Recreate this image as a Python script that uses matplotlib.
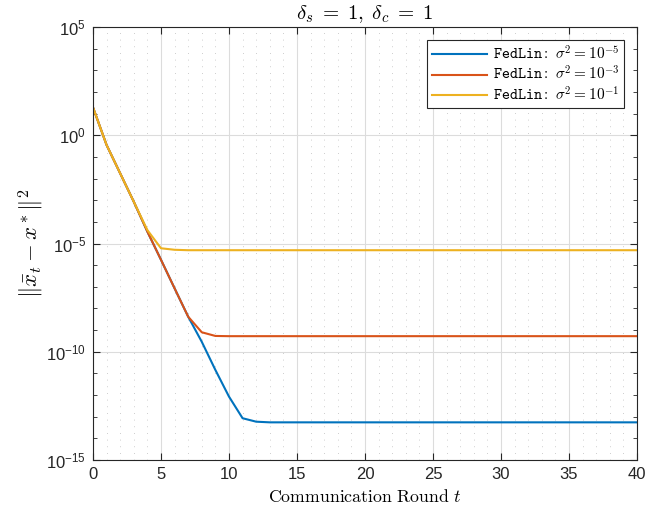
import matplotlib
matplotlib.use("Agg")
import matplotlib.pyplot as plt
import numpy as np
from matplotlib.ticker import FixedLocator, NullFormatter

# exponents (log10 of ||x_t - x*||^2), t = 0..40
rounds = list(range(41))
log_err_1e5 = [1.29, -0.45, -1.76, -3.07, -4.45, -5.75, -7.07, -8.38, -9.54, -10.84,
               -12.07, -13.07, -13.23, -13.26, -13.26, -13.26, -13.26, -13.26, -13.26, -13.26,
               -13.26, -13.26, -13.26, -13.26, -13.26, -13.26, -13.26, -13.26, -13.26, -13.26,
               -13.26, -13.26, -13.26, -13.26, -13.26, -13.26, -13.26, -13.26, -13.26, -13.26,
               -13.26]
log_err_1e3 = [1.29, -0.45, -1.76, -3.07, -4.45, -5.75, -7.07, -8.38, -9.10, -9.27,
               -9.28, -9.28, -9.28, -9.28, -9.28, -9.28, -9.28, -9.28, -9.28, -9.28,
               -9.28, -9.28, -9.28, -9.28, -9.28, -9.28, -9.28, -9.28, -9.28, -9.28,
               -9.28, -9.28, -9.28, -9.28, -9.28, -9.28, -9.28, -9.28, -9.28, -9.28,
               -9.28]
log_err_1e1 = [1.29, -0.45, -1.76, -3.07, -4.38, -5.22, -5.29, -5.31, -5.31, -5.31,
               -5.31, -5.31, -5.31, -5.31, -5.31, -5.31, -5.31, -5.31, -5.31, -5.31,
               -5.31, -5.31, -5.31, -5.31, -5.31, -5.31, -5.31, -5.31, -5.31, -5.31,
               -5.31, -5.31, -5.31, -5.31, -5.31, -5.31, -5.31, -5.31, -5.31, -5.31,
               -5.31]
labels = [r"$\mathtt{FedLin}\mathrm{:}\ \sigma^2 = 10^{-5}$",
          r"$\mathtt{FedLin}\mathrm{:}\ \sigma^2 = 10^{-3}$",
          r"$\mathtt{FedLin}\mathrm{:}\ \sigma^2 = 10^{-1}$"]
colors = ["#0072bd", "#d95319", "#edb120"]
y_major = [-15, -10, -5, 0, 5]

plt.rcParams['font.family'] = ['Liberation Sans', 'DejaVu Sans']
plt.rcParams['mathtext.fontset'] = 'cm'

fig = plt.figure(figsize=(6.47, 5.16), dpi=100)
ax = fig.add_axes([0.1437, 0.1085, 0.8408, 0.8392])

for series, lab, col in zip([log_err_1e5, log_err_1e3, log_err_1e1], labels, colors):
    ax.semilogy(rounds, 10.0 ** np.array(series), color=col, lw=1.5, label=lab)

ax.set_xlim(0, 40)
ax.set_ylim(1e-15, 1e5)
ax.set_xticks(range(0, 41, 5))
ax.xaxis.set_minor_locator(FixedLocator(range(0, 41)))
ax.yaxis.set_major_locator(FixedLocator([10.0 ** e for e in y_major]))
ax.set_yticklabels([r"$\mathregular{10^{%d}}$" % e for e in y_major])
ax.yaxis.set_minor_locator(FixedLocator([10.0 ** e for e in range(-15, 6)]))
ax.yaxis.set_minor_formatter(NullFormatter())

ax.tick_params(which='both', direction='in', top=True, right=True,
               colors='#262626', labelsize=12)
ax.tick_params(which='major', length=5, width=0.8, pad=5)
ax.tick_params(axis='y', which='minor', length=3, width=0.6)
ax.tick_params(axis='x', which='minor', length=0)
for s in ax.spines.values():
    s.set_color('#262626')
    s.set_linewidth(0.8)

ax.grid(which='major', color='#dcdcdc', lw=0.8)
ax.grid(which='minor', axis='x', color='#bdbdbd', lw=0.6, ls=(0, (1, 7)))
ax.grid(which='minor', axis='y', visible=False)
ax.set_axisbelow(True)

ax.set_title(r"$\delta_s\;=\;1,\;\delta_c\;=\;1$", fontsize=15, pad=6)
ax.set_xlabel(r"$\mathrm{Communication\ Round}\ t$", fontsize=12.8, labelpad=5)
ax.set_ylabel(r"$\|\bar{x}_t - x^*\|^2$", fontsize=16.4, labelpad=0)

leg = ax.legend(loc='upper right', fontsize=11, handlelength=3.6, fancybox=False,
                framealpha=1, edgecolor='#262626', borderaxespad=0.85,
                labelspacing=0.15, borderpad=0.3, handletextpad=0.4)
leg.get_frame().set_linewidth(0.8)

fig.savefig("out.png", dpi=100)
